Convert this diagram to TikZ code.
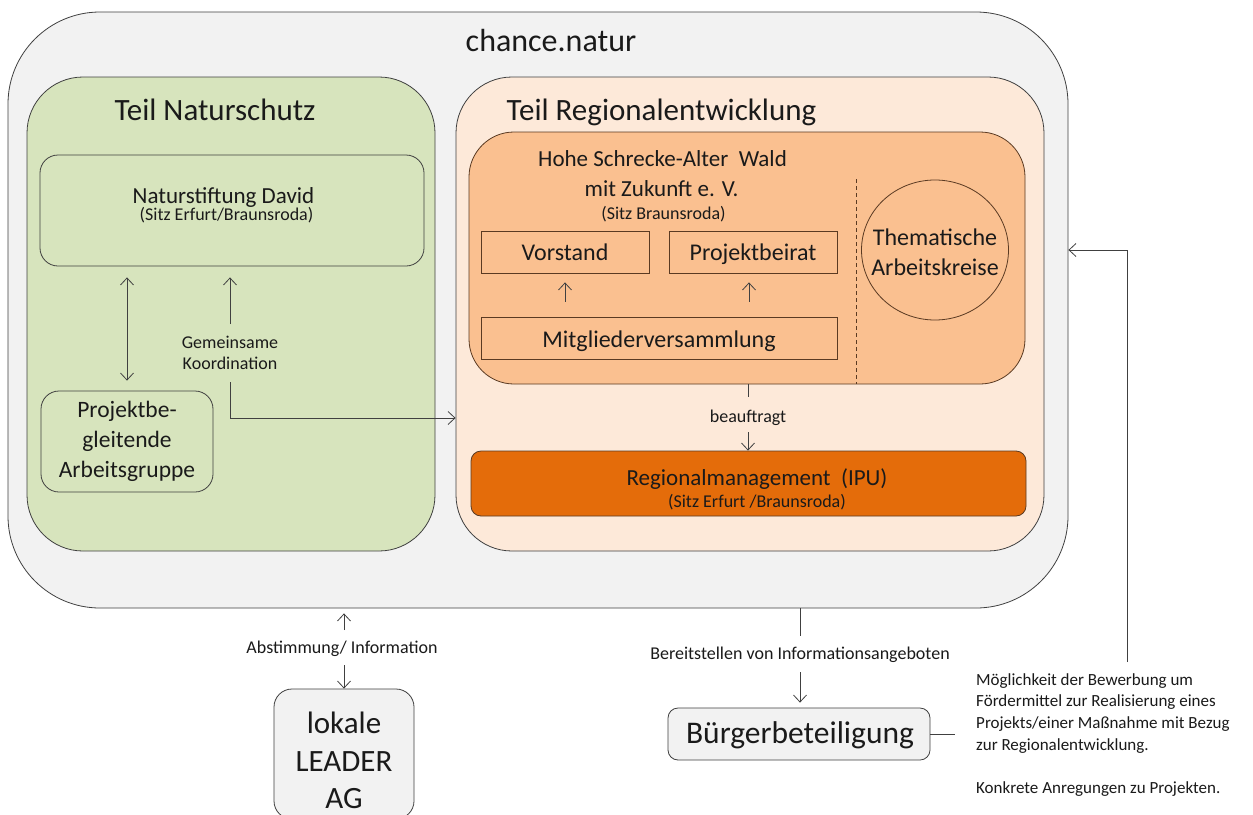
\documentclass[tikz,border=0pt]{standalone}
\usepackage{fontspec}
\setmainfont{Carlito}
\usetikzlibrary{arrows.meta,shapes.geometric}
\definecolor{outerfill}{HTML}{F2F2F2}
\definecolor{greenfill}{HTML}{D7E4BD}
\definecolor{lorange}{HTML}{FDE9D9}
\definecolor{morange}{HTML}{FAC090}
\definecolor{dorange}{HTML}{E46C0A}
\definecolor{edge}{HTML}{404040}
\definecolor{brownedge}{HTML}{5A3A22}
\definecolor{txt}{HTML}{1A1A1A}
\tikzset{
  box/.style={draw=edge, line width=0.8pt, inner sep=0pt, text=txt},
  rbox/.style={box, rectangle, draw=brownedge},
  lbl/.style={text=txt, inner sep=0pt, align=center, anchor=base},
  small/.style={font=\fontsize{18}{21.5}\selectfont},
  mid/.style={font=\fontsize{23}{30}\selectfont},
  arr/.style={draw=edge, line width=0.8pt, -{Straight Barb[length=7pt,width=13pt]}},
  darr/.style={draw=edge, line width=0.8pt, {Straight Barb[length=7pt,width=13pt]}-{Straight Barb[length=7pt,width=13pt]}},
  plain/.style={draw=edge, line width=0.8pt},
}
\begin{document}
\begin{tikzpicture}[x=1pt,y=-1pt]
\useasboundingbox[fill=white] (0,0) rectangle (1253,814);
% containers
\node[box, fill=outerfill, minimum width=1060pt, minimum height=596pt, rounded corners=92pt] (outer) at (538,310) {};
\node[lbl, font=\fontsize{32}{36}\selectfont] (tn) at (551,51) {chance.natur};
\node[box, fill=greenfill, minimum width=408pt, minimum height=474pt, rounded corners=56pt] (green) at (231,314) {};
\node[lbl, font=\fontsize{31}{36}\selectfont] (tg) at (215,120) {Teil Naturschutz};
\node[box, fill=lorange, minimum width=588pt, minimum height=474pt, rounded corners=56pt] (lor) at (750,314) {};
\node[lbl, font=\fontsize{31}{36}\selectfont] (tr) at (661.5,120) {Teil Regionalentwicklung};
% Naturschutz part
\node[box, fill=greenfill, minimum width=384pt, minimum height=111pt, rounded corners=18pt] (nd) at (232,210.5) {};
\node[lbl, mid] (ndt) at (223.5,203) {Naturstiftung David};
\node[lbl, small] (nds) at (226.5,220) {(Sitz Erfurt/Braunsroda)};
\node[box, fill=greenfill, minimum width=172pt, minimum height=101pt, rounded corners=18pt] (pb) at (127,441.5) {};
\node[lbl, font=\fontsize{23.5}{30}\selectfont] (pb1) at (127,417) {Projektbe-};
\node[lbl, font=\fontsize{23.5}{30}\selectfont] (pb2) at (127,447) {gleitende};
\node[lbl, font=\fontsize{23.5}{30}\selectfont] (pb3) at (127,477) {Arbeitsgruppe};
\node[lbl, small] (gk1) at (230,348) {Gemeinsame};
\node[lbl, small] (gk2) at (230,369.5) {Koordination};
% Regionalentwicklung part
\node[box, draw=brownedge, fill=morange, minimum width=556pt, minimum height=252pt, rounded corners=45pt] (hs) at (747,258) {};
\node[lbl, mid] (hst) at (662.5,166) {Hohe Schrecke-Alter\ \ Wald};
\node[lbl, mid] (hsz) at (661.5,196) {mit Zukunft e. V.};
\node[lbl, small] (hss) at (663.5,219) {(Sitz Braunsroda)};
\node[rbox, minimum width=168pt, minimum height=42pt] (vs) at (565,252) {};
\node[lbl, font=\fontsize{24}{28}\selectfont] (vst) at (565,260) {Vorstand};
\node[rbox, minimum width=168pt, minimum height=42pt] (pr) at (753,252) {};
\node[lbl, font=\fontsize{24}{28}\selectfont] (prt) at (753,260) {Projektbeirat};
\node[rbox, minimum width=356pt, minimum height=42pt] (mv) at (659,338) {};
\node[lbl, font=\fontsize{24}{28}\selectfont] (mvt) at (659,347) {Mitgliederversammlung};
\node[box, draw=brownedge, ellipse, minimum width=147pt, minimum height=140pt] (ta) at (935,250) {};
\node[lbl, font=\fontsize{24}{28}\selectfont] (ta1) at (935,245) {Thematische};
\node[lbl, font=\fontsize{24}{28}\selectfont] (ta2) at (935,275) {Arbeitskreise};
\coordinate (dtop) at (856,179);
\draw[brownedge, line width=0.8pt, dash pattern=on 4pt off 3pt] (dtop) -- (dtop |- hs.south);
\node[lbl, small] (bf) at (748,422) {beauftragt};
\node[box, draw=brownedge, fill=dorange, minimum width=555pt, minimum height=65pt, rounded corners=10pt] (rm) at (748.5,483.5) {};
\node[lbl, mid] (rmt) at (757,485) {Regionalmanagement\ \ (IPU)};
\node[lbl, small] (rms) at (757,507) {(Sitz Erfurt /Braunsroda)};
% bottom
\node[lbl, small] (ab) at (342,653) {Abstimmung/ Information};
\node[box, fill=outerfill, minimum width=140pt, minimum height=130pt, rounded corners=18pt] (la) at (344,754) {};
\node[lbl, font=\fontsize{31}{37.5}\selectfont] (la1) at (344,733) {lokale};
\node[lbl, font=\fontsize{31}{37.5}\selectfont] (la2) at (344,771) {LEADER};
\node[lbl, font=\fontsize{31}{37.5}\selectfont] (la3) at (344,808) {AG};
\node[lbl, small] (bi) at (800,659) {Bereitstellen von Informationsangeboten};
\node[box, fill=outerfill, minimum width=262pt, minimum height=52pt, rounded corners=10pt] (bb) at (799,734) {};
\node[lbl, font=\fontsize{31.5}{36}\selectfont] (bbt) at (800,743) {Bürgerbeteiligung};
\node[lbl, anchor=base west, align=left, font=\fontsize{17}{21.7}\selectfont] (mt1) at (976,685) {Möglichkeit der Bewerbung um};
\node[lbl, anchor=base west, font=\fontsize{17}{21.7}\selectfont] (mt2) at (976,706.7) {Fördermittel zur Realisierung eines};
\node[lbl, anchor=base west, font=\fontsize{17}{21.7}\selectfont] (mt3) at (976,728.4) {Projekts/einer Maßnahme mit Bezug};
\node[lbl, anchor=base west, font=\fontsize{17}{21.7}\selectfont] (mt4) at (976,750.1) {zur Regionalentwicklung.};
\node[lbl, anchor=base west, font=\fontsize{17}{21.7}\selectfont] (mt5) at (976,793.5) {Konkrete Anregungen zu Projekten.};
\coordinate (rbot) at (1127,662);
\coordinate (rtop) at (1127,250);
\coordinate (gkup) at (230,324);
\coordinate (gkdown) at (230,382);
\coordinate (bfa) at (748,397);
\coordinate (bfb) at (748,432);
\coordinate (aba) at (344,630);
\coordinate (abb) at (344,665);
\coordinate (bia) at (800,636);
\coordinate (bib) at (800,672);
% connectors
\draw[darr] ([yshift=-11pt]pb.north |- nd.south) -- ([yshift=10pt]pb.north);
\draw[arr] (gkup) -- ([yshift=-11pt]gkup |- nd.south);
\draw[arr] (gkdown) |- (lor.west |- 0,418);
\draw[arr] ([yshift=15pt]mv.north -| vs.south) -- ([yshift=-9pt]vs.south);
\draw[arr] ([yshift=15pt]mv.north -| 749,0) -- ([yshift=-9pt]pr.south -| 749,0);
\draw[plain] (hs.south -| bfa) -- (bfa);
\draw[arr] (bfb) -- (bfb |- rm.north);
\draw[arr] (aba) -- ([yshift=-5pt]outer.south -| aba);
\draw[arr] (abb) -- (abb |- la.north);
\draw[plain] (outer.south -| bia) -- (bia);
\draw[arr] (bib) -- ([yshift=5pt]bib |- bb.north);
\draw[plain] (bb.east) -- ++(25,0);
\draw[arr] (rbot) -- (rtop) -- (outer.east |- rtop);
\end{tikzpicture}
\end{document}
